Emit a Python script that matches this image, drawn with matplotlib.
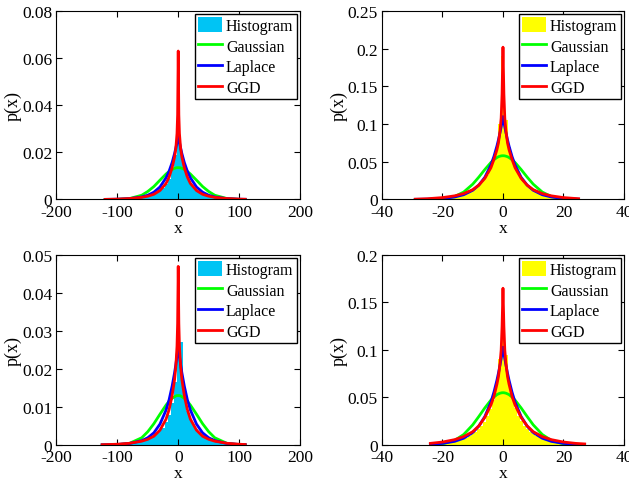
import matplotlib
matplotlib.use("Agg")
import matplotlib.pyplot as plt
from matplotlib.patches import Patch
from matplotlib.lines import Line2D

plt.rcParams['font.family'] = ['Liberation Serif', 'DejaVu Serif']
plt.rcParams['axes.unicode_minus'] = False

# === Data ===

cyan = '#00C4F4'
yellow = '#FFFF00'

# top left
tl_hist_start, tl_hist_width = -120, 5
tl_hist = [.0002, .0002, .0003, .0003, .0004, .0003, .0004, .0005, .0006, .0006,
           .0008, .0009, .0011, .0013, .0016, .0020, .0025, .0031, .0040, .0050,
           .0065, .0088, .0125, .0190, .0400, .0200, .0130, .0092, .0068, .0052,
           .0042, .0034, .0028, .0024, .0021, .0019, .0016, .0013, .0008, .0005,
           .0004, .0003, .0002, .0002, .0001, .0001, .0001, .0000]
tl_x = [-120, -100, -80, -60, -50, -40, -30, -20, -15, -10, -6, -4, -2, -1, 0,
        1, 2, 4, 6, 10, 15, 20, 30, 40, 50, 60, 80, 100, 110]
tl_gauss = [.0000, .00005, .0004, .0018, .0034, .0055, .0082, .0108, .0119, .0128, .0132, .0134, .0135, .0135, .0135,
            .0135, .0135, .0134, .0132, .0128, .0119, .0108, .0082, .0055, .0034, .0018, .0004, .00005, .00001]
tl_laplace = [.00004, .00012, .00036, .00106, .0018, .0031, .0053, .0092, .0120, .0157, .0195, .0218, .0242, .0256, .0270,
              .0256, .0242, .0218, .0195, .0157, .0120, .0092, .0053, .0031, .0018, .00106, .00036, .00012, .00007]
tl_ggd = [.00005, .00016, .0004, .0009, .0014, .0022, .0038, .0068, .0095, .0135, .0180, .0215, .0280, .0360, .0630,
          .0360, .0280, .0215, .0180, .0135, .0095, .0068, .0038, .0022, .0014, .0009, .0004, .00016, .0001]

# top right
tr_hist_start, tr_hist_width = -29, 1
tr_hist = [.0005, .0005, .0006, .0007, .0008, .0010, .0011, .0013, .0016, .0019,
           .0023, .0027, .0032, .0039, .0046, .0056, .0067, .0081, .0098, .0119,
           .0145, .0177, .0216, .0265, .0330, .0410, .0520, .0680, .1000, .1900,
           .1050, .0700, .0530, .0420, .0335, .0270, .0220, .0180, .0148, .0122,
           .0100, .0083, .0069, .0058, .0049, .0042, .0036, .0032, .0028, .0024,
           .0020, .0017, .0015, .0012]
tr_x = [-29, -25, -20, -16, -13, -10, -8, -6, -4, -3, -2, -1.5, -1, -0.6, -0.3, 0,
        0.3, 0.6, 1, 1.5, 2, 3, 4, 6, 8, 10, 13, 16, 20, 25]
tr_gauss = [.0000, .00008, .0009, .0039, .0098, .0203, .0296, .0397, .0490, .0528, .0556, .0567, .0574, .0578, .0580, .0580,
            .0580, .0578, .0574, .0567, .0556, .0528, .0490, .0397, .0296, .0203, .0098, .0039, .0009, .00008]
tr_laplace = [.0002, .00045, .00135, .0033, .0063, .0122, .0190, .0294, .0457, .0569, .0709, .0791, .0883, .0964, .1030, .1100,
              .1030, .0964, .0883, .0791, .0709, .0569, .0457, .0294, .0190, .0122, .0063, .0033, .00135, .00045]
tr_ggd = [.0004, .0010, .0025, .0048, .0078, .0130, .0190, .0280, .0420, .0530, .0660, .0750, .0900, .1080, .1400, .2020,
          .1400, .1080, .0900, .0750, .0660, .0530, .0420, .0280, .0190, .0130, .0078, .0048, .0025, .0010]

# bottom left
bl_hist_start, bl_hist_width = -125, 5
bl_hist = [.0001, .0002, .0002, .0003, .0003, .0004, .0004, .0005, .0005, .0006,
           .0007, .0008, .0010, .0011, .0013, .0016, .0019, .0023, .0029, .0036,
           .0046, .0060, .0080, .0110, .0165, .0290, .0270, .0125, .0090, .0068,
           .0052, .0041, .0033, .0028, .0024, .0021, .0018, .0015, .0012, .0009,
           .0007, .0005, .0004, .0003, .0002, .0002, .0001, .0001]
bl_x = [-125, -100, -80, -60, -50, -40, -30, -20, -15, -10, -6, -4, -2, -1, 0,
        1, 2, 4, 6, 10, 15, 20, 30, 40, 50, 60, 80, 100, 110]
bl_gauss = [.0000, .00006, .00044, .0019, .0035, .0056, .0081, .0105, .0115, .0123, .0127, .0129, .0130, .0130, .0130,
            .0130, .0130, .0129, .0127, .0123, .0115, .0105, .0081, .0056, .0035, .0019, .00044, .00006, .00002]
bl_laplace = [.00004, .00014, .0004, .00114, .0019, .0032, .0055, .0092, .0119, .0155, .0190, .0211, .0234, .0247, .0260,
              .0247, .0234, .0211, .0190, .0155, .0119, .0092, .0055, .0032, .0019, .00114, .0004, .00014, .00008]
bl_ggd = [.00007, .0002, .00045, .0010, .0015, .0023, .0039, .0068, .0093, .0130, .0172, .0205, .0260, .0320, .0470,
          .0320, .0260, .0205, .0172, .0130, .0093, .0068, .0039, .0023, .0015, .0010, .00045, .0002, .00012]

# bottom right
br_hist_start, br_hist_width = -24, 1
br_hist = [.0008, .0010, .0012, .0015, .0018, .0022, .0026, .0031, .0037, .0045,
           .0054, .0065, .0078, .0094, .0113, .0137, .0166, .0200, .0245, .0300,
           .0375, .0470, .0620, .0900, .1400, .0950, .0650, .0490, .0390, .0310,
           .0250, .0205, .0170, .0140, .0115, .0096, .0080, .0068, .0058, .0050,
           .0044, .0039, .0035, .0031, .0028, .0025, .0022, .0019, .0016, .0012,
           .0008, .0005]
br_x = [-24, -20, -16, -13, -10, -8, -6, -4, -3, -2, -1.5, -1, -0.6, -0.3, 0,
        0.3, 0.6, 1, 1.5, 2, 3, 4, 6, 8, 10, 13, 16, 20, 24, 27]
br_gauss = [.00023, .0012, .0048, .0110, .0212, .0299, .0390, .0472, .0505, .0530, .0538, .0545, .0548, .0550, .0550,
            .0550, .0548, .0545, .0538, .0530, .0505, .0472, .0390, .0299, .0212, .0110, .0048, .0012, .00023, .00005]
br_laplace = [.0007, .0017, .0038, .0071, .0131, .0198, .0299, .0451, .0555, .0682, .0756, .0838, .0910, .0968, .1030,
              .0968, .0910, .0838, .0756, .0682, .0555, .0451, .0299, .0198, .0131, .0071, .0038, .0017, .0007, .0004]
br_ggd = [.0017, .0031, .0056, .0088, .0140, .0200, .0290, .0420, .0510, .0640, .0720, .0850, .1000, .1250, .1650,
          .1250, .1000, .0850, .0720, .0640, .0510, .0420, .0290, .0200, .0140, .0088, .0056, .0031, .0017, .0011]

wide_xticks = [-200, -100, 0, 100, 200]
narrow_xticks = [-40, -20, 0, 20, 40]
tl_yticks = [0, 0.02, 0.04, 0.06, 0.08]
tr_yticks = [0, 0.05, 0.1, 0.15, 0.2, 0.25]
bl_yticks = [0, 0.01, 0.02, 0.03, 0.04, 0.05]
br_yticks = [0, 0.05, 0.1, 0.15, 0.2]


def draw_panel(ax, hist_start, hist_width, hist, hist_color, x, gauss, laplace, ggd, xticks, yticks):
    centers = [hist_start + i * hist_width for i in range(len(hist))]
    ax.bar(centers, hist, width=hist_width, color=hist_color, linewidth=0)
    ax.plot(x, gauss, color='#00FF00', lw=2)
    ax.plot(x, laplace, color='#0000FF', lw=2)
    ax.plot(x, ggd, color='#FF0000', lw=2)

    ax.set_xlim(xticks[0], xticks[-1])
    ax.set_ylim(yticks[0], yticks[-1])
    ax.set_xticks(xticks)
    ax.set_xticklabels(['%g' % t for t in xticks])
    ax.set_yticks(yticks)
    ax.set_yticklabels(['%g' % t for t in yticks])
    ax.tick_params(direction='in', top=True, right=True, length=4, width=0.8,
                   labelsize=12.5, pad=3)
    for s in ax.spines.values():
        s.set_linewidth(0.8)
    ax.set_xlabel('x', fontsize=12.5, labelpad=0)
    ax.set_ylabel('p(x)', fontsize=13, labelpad=0)

    handles = [Patch(facecolor=hist_color, edgecolor='none'),
               Line2D([], [], color='#00FF00', lw=2),
               Line2D([], [], color='#0000FF', lw=2),
               Line2D([], [], color='#FF0000', lw=2)]
    leg = ax.legend(handles, ['Histogram', 'Gaussian', 'Laplace', 'GGD'],
                    loc='upper right', fontsize=11.5, fancybox=False,
                    framealpha=1, edgecolor='black', borderaxespad=0.2,
                    borderpad=0.2, labelspacing=0.25, handlelength=1.5,
                    handleheight=1.0, handletextpad=0.25)
    leg.get_frame().set_linewidth(1.0)


fig = plt.figure(figsize=(6.29, 4.81), dpi=100)

ax1 = fig.add_axes([0.0898, 0.5832, 0.3871, 0.3919])
ax2 = fig.add_axes([0.6073, 0.5832, 0.3847, 0.3919])
ax3 = fig.add_axes([0.0898, 0.0728, 0.3871, 0.3950])
ax4 = fig.add_axes([0.6073, 0.0728, 0.3847, 0.3950])

draw_panel(ax1, tl_hist_start, tl_hist_width, tl_hist, cyan, tl_x, tl_gauss, tl_laplace, tl_ggd, wide_xticks, tl_yticks)
draw_panel(ax2, tr_hist_start, tr_hist_width, tr_hist, yellow, tr_x, tr_gauss, tr_laplace, tr_ggd, narrow_xticks, tr_yticks)
draw_panel(ax3, bl_hist_start, bl_hist_width, bl_hist, cyan, bl_x, bl_gauss, bl_laplace, bl_ggd, wide_xticks, bl_yticks)
draw_panel(ax4, br_hist_start, br_hist_width, br_hist, yellow, br_x, br_gauss, br_laplace, br_ggd, narrow_xticks, br_yticks)

fig.savefig('out.png', dpi=100)
